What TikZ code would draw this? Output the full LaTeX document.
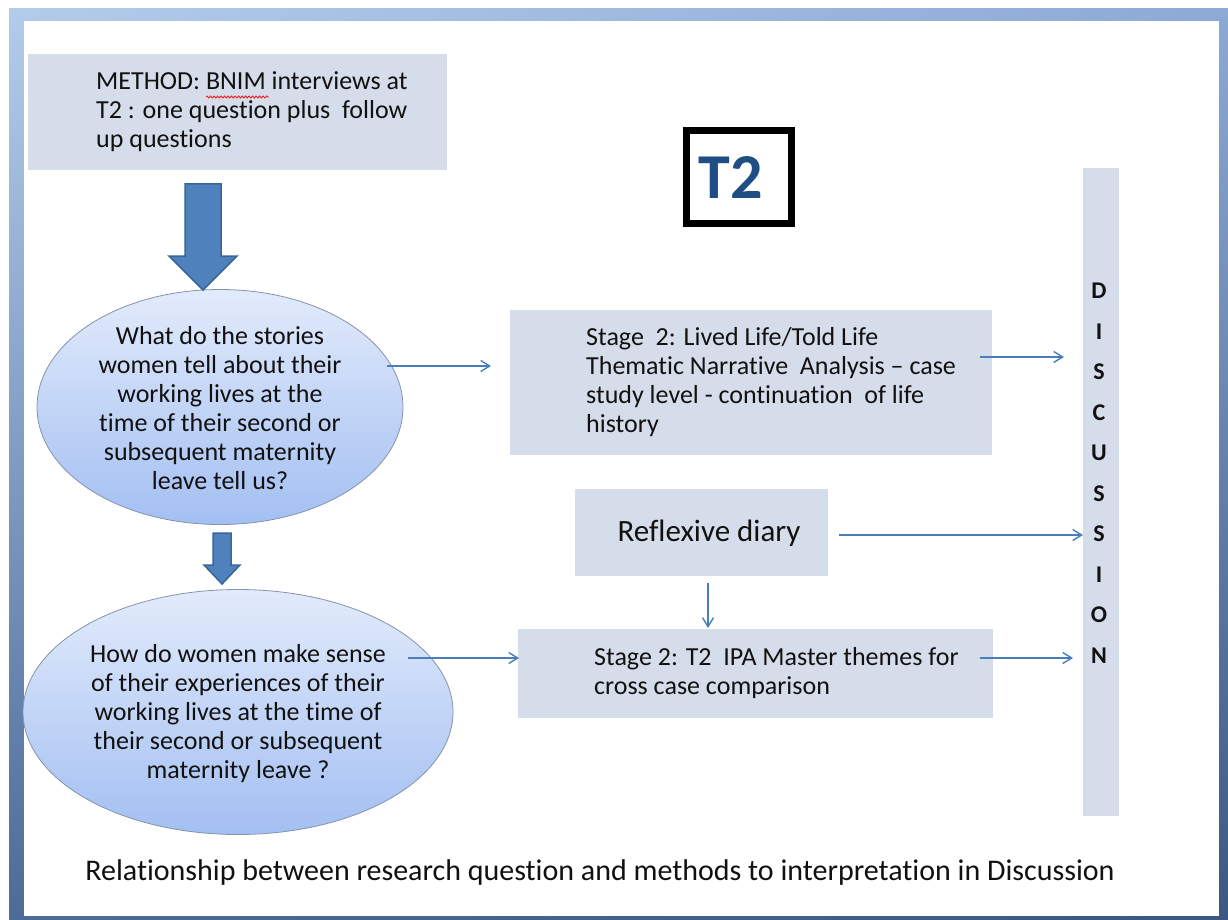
\documentclass[tikz,border=0pt]{standalone}
\usepackage{fontspec}
\setmainfont[Ligatures={NoCommon}]{Carlito}
\usetikzlibrary{shapes.geometric,arrows.meta,decorations.pathmorphing,shadings}
\definecolor{boxfill}{HTML}{D6DDEA}
\definecolor{conncol}{HTML}{4A7EBB}
\definecolor{arrfill}{HTML}{4F81BD}
\definecolor{arrdraw}{HTML}{3A6598}
\definecolor{elltop}{HTML}{E2EBFB}
\definecolor{ellbot}{HTML}{A3BFF2}
\definecolor{elldraw}{HTML}{8594AA}
\definecolor{tblue}{HTML}{1F4E85}
\definecolor{txtcol}{HTML}{111111}
\definecolor{frUL}{HTML}{B3CCEB}
\definecolor{frUR}{HTML}{8DAAD5}
\definecolor{frLL}{HTML}{4C6B99}
\definecolor{frLR}{HTML}{3C5781}
\begin{document}
\begin{tikzpicture}[x=1pt,y=-1pt,
  box/.style={fill=boxfill, draw=none, inner sep=0pt, anchor=north west},
  ell/.style={ellipse, draw=elldraw, line width=0.8pt, top color=elltop, bottom color=ellbot, inner sep=0pt},
  lbl/.style={font=\fontsize{26}{29}\selectfont, text=txtcol, inner sep=0pt},
  conn/.style={draw=conncol, line width=1.4pt, -{Straight Barb[length=9pt,width=11pt,line width=1.4pt]}},
  blockarrow/.style={fill=arrfill, draw=arrdraw, line width=1.5pt, line join=miter}
]
\useasboundingbox (0,0) rectangle (1228,920);
% slide frame
\shade[upper left=frUL, upper right=frUR, lower left=frLL, lower right=frLR] (9,9) rectangle (1228,920);
\fill[white] (24,21) rectangle (1219,916);

% boxes
\node[box, minimum width=419pt, minimum height=116pt] (method) at (28,54) {};
\node[lbl, align=left, anchor=west] (methodtxt) at (96,112) {METHOD: BNIM interviews at\\T2 : one question plus~~follow\\up questions};
\draw[red, line width=0.7pt, decorate, decoration={snake, amplitude=1.1pt, segment length=3.5pt}] (206,97) -- (269,97);

\node[draw=black, line width=7pt, minimum width=105pt, minimum height=93pt, inner sep=0pt] (t2) at (739,177) {};
\node[font=\bfseries\fontsize{64}{64}\selectfont, text=tblue, inner sep=0pt] (t2txt) at (731,178) {T2};

\node[box, minimum width=482pt, minimum height=145pt] (stage1) at (510,310) {};
\node[lbl, align=left, anchor=west] (stage1txt) at (586,382) {Stage~~2: Lived Life/Told Life\\Thematic Narrative~~Analysis -- case\\study level - continuation~ of life\\history};

\node[box, minimum width=253pt, minimum height=87pt] (diary) at (575,489) {};
\node[font=\fontsize{31}{36}\selectfont, text=txtcol, inner sep=0pt] (diarytxt) at (709,533) {Reflexive diary};

\node[box, minimum width=475pt, minimum height=89pt] (stage2) at (518,629) {};
\node[lbl, align=left, anchor=west] (stage2txt) at (594,673) {Stage 2: T2~~IPA Master themes for\\cross case comparison};

\node[box, minimum width=36pt, minimum height=648pt] (disc) at (1083,168) {};
\node[font=\bfseries\fontsize{24}{40.5}\selectfont, align=center, text=txtcol, inner sep=0pt] (disctxt) at (1099,473) {D\\I\\S\\C\\U\\S\\S\\I\\O\\N};

% ellipses
\node[ell, minimum width=366pt, minimum height=235pt] (q1) at (220,407) {};
\node[lbl, align=center] (q1txt) at (220,408) {What do the stories\\women tell about their\\working lives at the\\time of their second or\\subsequent maternity\\leave tell us?};
\node[ell, minimum width=430pt, minimum height=245pt] (q2) at (238,712) {};
\node[lbl, align=center] (q2txt) at (238,714) {How do women make sense\\of their experiences of their\\working lives at the time of\\their second or subsequent\\maternity leave ?};

% block arrows
\path[blockarrow] (185,184) -- (221,184) -- (221,256) -- (237,256) -- (203,290) -- (169,256) -- (185,256) -- cycle;
\path[blockarrow] (213,533) -- (231,533) -- (231,565) -- (240,565) -- (222,584) -- (204,565) -- (213,565) -- cycle;

% connectors
\coordinate (a1s) at (387,366); \coordinate (a1e) at (491,366);
\coordinate (a2s) at (980,357); \coordinate (a2e) at (1064,357);
\coordinate (a3s) at (839,535); \coordinate (a3e) at (1083,535);
\coordinate (a4s) at (708,583); \coordinate (a4e) at (708,628);
\coordinate (a5s) at (408,658); \coordinate (a5e) at (519,658);
\coordinate (a6s) at (980,658); \coordinate (a6e) at (1073,658);
\draw[conn] (a1s) -- (a1e);
\draw[conn] (a2s) -- (a2e);
\draw[conn] (a3s) -- (a3e);
\draw[conn] (a4s) -- (a4e);
\draw[conn] (a5s) -- (a5e);
\draw[conn] (a6s) -- (a6e);

% caption
\node[font=\fontsize{30}{34}\selectfont, text=txtcol, inner sep=0pt] (caption) at (600,872) {Relationship between research question and methods to interpretation in Discussion};
\end{tikzpicture}
\end{document}
